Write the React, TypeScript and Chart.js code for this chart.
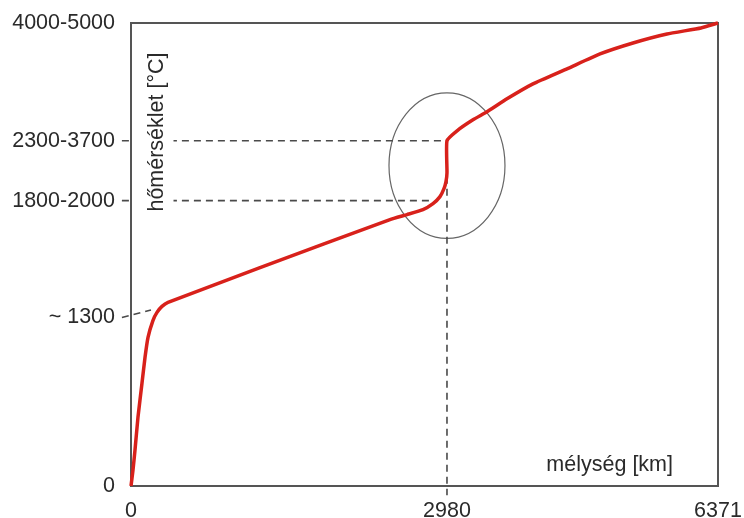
import { useEffect, useRef } from "react";
import { Chart, registerables } from "chart.js";

Chart.register(...registerables);

// Schematic diagram: both axes are non-linear, so values are stored as
// positions along each axis (0–100 %) with the printed tick labels.
const xTickPos = [0, 53.83, 100];
const xTickLabels = ["0", "2980", "6371"];
const yTickPos = [0, 36.4, 61.64, 74.57, 100];
const yTickLabels = ["0", "~ 1300", "1800-2000", "2300-3700", "4000-5000"];

// Temperature curve (depth position, temperature position)
const depthPos = [
  0, 0.34, 0.68, 1.19, 1.87, 2.39, 2.9, 3.75, 4.43, 5.28, 6.3, 21.64, 44.12,
  47.02, 49.74, 51.45, 52.64, 53.32, 53.66, 53.83, 53.83, 55.54, 58.26,
  60.65, 64.05, 68.48, 74.28, 79.9, 85.52, 91.31, 97.1, 100,
];
const tempPos = [
  0, 3.45, 7.76, 14.87, 22.2, 27.8, 32.11, 35.78, 37.5, 38.79, 39.66, 46.98,
  57.54, 58.62, 59.7, 60.99, 62.5, 64.22, 65.73, 67.67, 74.57, 76.72,
  79.09, 80.82, 83.62, 86.85, 90.09, 93.32, 95.69, 97.63, 98.92, 100,
];

// Dashed guide lines
const guide2300X = [-1.55, 53.83];
const guide2300Y = [74.57, 74.57];
const guide1800X = [-1.55, 51.45];
const guide1800Y = [61.64, 61.64];
const guideCoreX = [53.83, 53.83];
const guideCoreY = [74.57, -2.0];
const guide1300X = [-1.55, 3.4];
const guide1300Y = [36.4, 38.0];

// Highlight ellipse (center & radii in axis positions)
const ellipseCenter = [53.83, 69.2];
const ellipseRadii = [9.88, 15.7];

const yTitle = "hőmérséklet [°C]";
const xTitle = "mélység [km]";

const FONT = "'Liberation Sans', Arial, sans-serif";
const TEXT = "#2a2a2a";
const FRAME = "#555555";
const DASH = "#4a4a4a";
const RED = "#d8211b";

const pts = (xs: number[], ys: number[]) => xs.map((x, i) => ({ x, y: ys[i] }));

const guide = (xs: number[], ys: number[]) => ({
  data: pts(xs, ys),
  borderColor: DASH,
  borderWidth: 1.6,
  borderDash: [7, 5],
  pointRadius: 0,
  tension: 0,
  clip: false as const,
  order: 2,
});

const decorPlugin = {
  id: "decor",
  beforeDatasetsDraw(chart: any) {
    const { ctx, chartArea: a, scales } = chart;
    const xs = scales.x;
    const ys = scales.y;
    ctx.save();
    ctx.strokeStyle = FRAME;
    ctx.lineWidth = 2;
    ctx.strokeRect(a.left, a.top, a.right - a.left, a.bottom - a.top);
    const cx = xs.getPixelForValue(ellipseCenter[0]);
    const cy = ys.getPixelForValue(ellipseCenter[1]);
    const rx = Math.abs(xs.getPixelForValue(ellipseCenter[0] + ellipseRadii[0]) - cx);
    const ry = Math.abs(ys.getPixelForValue(ellipseCenter[1] + ellipseRadii[1]) - cy);
    ctx.beginPath();
    ctx.ellipse(cx, cy, rx, ry, 0, 0, Math.PI * 2);
    ctx.strokeStyle = "#666666";
    ctx.lineWidth = 1.2;
    ctx.stroke();
    ctx.restore();
  },
  afterDatasetsDraw(chart: any) {
    const { ctx, chartArea: a } = chart;
    ctx.save();
    // white backing behind the rotated axis title (interrupts the dashes)
    ctx.fillStyle = "#ffffff";
    ctx.fillRect(a.left + 1.5, 45, 41, 175);
    ctx.fillStyle = TEXT;
    ctx.font = `21.5px ${FONT}`;
    ctx.textBaseline = "middle";
    ctx.textAlign = "right";
    ctx.fillText(xTitle, 673, 465);
    ctx.translate(157, 132);
    ctx.rotate(-Math.PI / 2);
    ctx.textAlign = "center";
    ctx.fillText(yTitle, 0, 0);
    ctx.restore();
  },
};

const zeroPad = (s: any) => {
  s.paddingTop = 0;
  s.paddingBottom = 0;
  s.paddingLeft = 0;
  s.paddingRight = 0;
};

export default function App() {
  const ref = useRef<HTMLCanvasElement | null>(null);

  useEffect(() => {
    if (!ref.current) return;
    const chart = new Chart(ref.current, {
      type: "line",
      data: {
        datasets: [
          {
            data: pts(depthPos, tempPos),
            borderColor: RED,
            borderWidth: 3.5,
            pointRadius: 0,
            tension: 0.15,
            clip: false as const,
            order: 0,
          },
          guide(guide2300X, guide2300Y),
          guide(guide1800X, guide1800Y),
          guide(guideCoreX, guideCoreY),
          guide(guide1300X, guide1300Y),
        ] as any,
      },
      options: {
        animation: false,
        responsive: true,
        maintainAspectRatio: false,
        layout: { padding: { top: 23, right: 26, left: 0, bottom: 0 } },
        plugins: { legend: { display: false }, tooltip: { enabled: false } },
        scales: {
          x: {
            type: "linear",
            min: 0,
            max: 100,
            grid: { display: false, drawTicks: false },
            border: { display: false },
            afterBuildTicks: (s: any) => {
              s.ticks = xTickPos.map((v) => ({ value: v }));
            },
            afterFit: (s: any) => {
              s.height = 32;
              zeroPad(s);
            },
            ticks: {
              autoSkip: false,
              maxRotation: 0,
              padding: 12,
              color: TEXT,
              font: { family: FONT, size: 21.5 },
              callback: (_v: any, i: number) => xTickLabels[i],
            },
          },
          y: {
            type: "linear",
            min: 0,
            max: 100,
            grid: { display: false, drawTicks: false },
            border: { display: false },
            afterBuildTicks: (s: any) => {
              s.ticks = yTickPos.map((v) => ({ value: v }));
            },
            afterFit: (s: any) => {
              s.width = 131;
              zeroPad(s);
            },
            ticks: {
              autoSkip: false,
              padding: 16,
              color: TEXT,
              font: { family: FONT, size: 21.5 },
              callback: (_v: any, i: number) => yTickLabels[i],
            },
          },
        },
      } as any,
      plugins: [decorPlugin],
    });
    return () => chart.destroy();
  }, []);

  return (
    <div style={{ position: "absolute", left: 0, top: 0, width: 744, height: 518, background: "#fff" }}>
      <canvas ref={ref} />
    </div>
  );
}
